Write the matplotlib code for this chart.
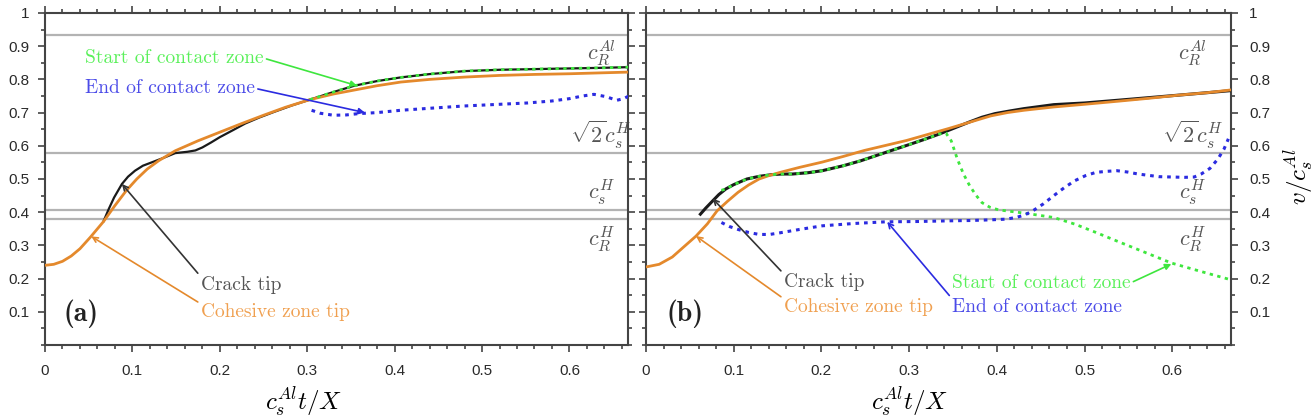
import matplotlib
matplotlib.use('Agg')
import matplotlib.pyplot as plt
from matplotlib.ticker import MultipleLocator

plt.rcParams['mathtext.fontset'] = 'cm'
plt.rcParams['font.family'] = ['Liberation Sans', 'DejaVu Sans']

# ---------------- data ----------------
ref_levels = [0.935, 0.577, 0.408, 0.381]
ref_labels = [r'$c_R^{Al}$', r'$\sqrt{2}c_s^H$', r'$c_s^H$', r'$c_R^H$']
ref_label_y = [0.882, 0.632, 0.46, 0.322]

# panel (a)
a_coh_x = [0, 0.01, 0.02, 0.03, 0.04, 0.052, 0.067, 0.08, 0.093, 0.105, 0.117, 0.13, 0.149, 0.175,
           0.2, 0.225, 0.25, 0.275, 0.303, 0.33, 0.354, 0.38, 0.407, 0.44, 0.48, 0.52, 0.56, 0.6, 0.64, 0.668]
a_coh_y = [0.24, 0.243, 0.252, 0.268, 0.29, 0.325, 0.372, 0.42, 0.465, 0.5, 0.53, 0.555, 0.585, 0.615,
           0.641, 0.667, 0.692, 0.716, 0.739, 0.756, 0.768, 0.781, 0.792, 0.8, 0.807, 0.812, 0.815, 0.817, 0.82, 0.822]
a_crack_x = [0.067, 0.073, 0.079, 0.088, 0.095, 0.103, 0.112, 0.122, 0.135, 0.149, 0.163, 0.172, 0.18, 0.19,
             0.2, 0.215, 0.229, 0.245, 0.262, 0.283, 0.303, 0.33, 0.354, 0.38, 0.407, 0.44, 0.48, 0.52, 0.56, 0.6, 0.64, 0.668]
a_crack_y = [0.373, 0.41, 0.444, 0.485, 0.507, 0.525, 0.54, 0.55, 0.563, 0.578, 0.582, 0.586, 0.595, 0.61,
             0.626, 0.647, 0.667, 0.685, 0.702, 0.722, 0.739, 0.762, 0.781, 0.795, 0.806, 0.816, 0.825, 0.829, 0.831, 0.833, 0.835, 0.837]
a_start_x = [0.303, 0.33, 0.354, 0.38, 0.407, 0.44, 0.48, 0.52, 0.56, 0.6, 0.64, 0.668]
a_start_y = [0.739, 0.762, 0.781, 0.795, 0.806, 0.816, 0.825, 0.829, 0.831, 0.833, 0.835, 0.837]
a_end_x = [0.305, 0.315, 0.33, 0.345, 0.359, 0.38, 0.407, 0.44, 0.48, 0.52, 0.552, 0.58, 0.6, 0.615, 0.628, 0.642, 0.654, 0.662, 0.668]
a_end_y = [0.707, 0.698, 0.692, 0.693, 0.697, 0.7, 0.707, 0.713, 0.72, 0.725, 0.729, 0.735, 0.742, 0.75, 0.755, 0.748, 0.737, 0.742, 0.75]

# panel (b)
b_coh_x = [0, 0.015, 0.03, 0.045, 0.057, 0.07, 0.081, 0.093, 0.105, 0.117, 0.129, 0.141, 0.153, 0.175, 0.201,
           0.225, 0.249, 0.273, 0.297, 0.321, 0.345, 0.369, 0.393, 0.412, 0.431, 0.465, 0.5, 0.537, 0.573, 0.609, 0.64, 0.666]
b_coh_y = [0.235, 0.243, 0.265, 0.3, 0.328, 0.365, 0.404, 0.433, 0.46, 0.482, 0.5, 0.511, 0.52, 0.535, 0.551,
           0.568, 0.586, 0.601, 0.616, 0.634, 0.652, 0.671, 0.69, 0.7, 0.707, 0.717, 0.725, 0.734, 0.743, 0.753, 0.76, 0.768]
b_crack_x = [0.062, 0.068, 0.076, 0.083, 0.091, 0.1, 0.115, 0.129, 0.143, 0.155, 0.167, 0.185, 0.201, 0.225, 0.245,
             0.263, 0.28, 0.297, 0.316, 0.335, 0.352, 0.369, 0.383, 0.398, 0.415, 0.431, 0.465, 0.5, 0.537, 0.573, 0.609, 0.64, 0.666]
b_crack_y = [0.394, 0.412, 0.434, 0.453, 0.47, 0.483, 0.5, 0.508, 0.513, 0.515, 0.515, 0.519, 0.525, 0.54, 0.555,
             0.571, 0.586, 0.601, 0.618, 0.636, 0.654, 0.672, 0.686, 0.697, 0.705, 0.712, 0.724, 0.729, 0.737, 0.745, 0.753, 0.76, 0.766]
b_start_x = [0.086, 0.091, 0.1, 0.115, 0.129, 0.143, 0.155, 0.167, 0.185, 0.201, 0.225, 0.245, 0.263, 0.28, 0.297,
             0.316, 0.335, 0.342, 0.348, 0.355, 0.362, 0.369, 0.376, 0.383, 0.392, 0.402, 0.414, 0.426, 0.445, 0.465,
             0.489, 0.513, 0.537, 0.568, 0.599, 0.632, 0.666]
b_start_y = [0.466, 0.47, 0.483, 0.5, 0.508, 0.513, 0.515, 0.515, 0.519, 0.525, 0.54, 0.555, 0.571, 0.586, 0.601,
             0.618, 0.636, 0.638, 0.615, 0.56, 0.515, 0.48, 0.452, 0.429, 0.415, 0.407, 0.403, 0.399, 0.392, 0.384,
             0.364, 0.339, 0.313, 0.28, 0.247, 0.222, 0.197]
b_end_x = [0.086, 0.095, 0.105, 0.117, 0.129, 0.141, 0.153, 0.175, 0.201, 0.237, 0.273, 0.31, 0.345, 0.37, 0.393,
           0.41, 0.422, 0.432, 0.441, 0.453, 0.465, 0.477, 0.489, 0.501, 0.513, 0.525, 0.537, 0.549, 0.561, 0.585,
           0.614, 0.625, 0.633, 0.643, 0.652, 0.659, 0.664]
b_end_y = [0.369, 0.357, 0.348, 0.339, 0.333, 0.333, 0.338, 0.348, 0.359, 0.366, 0.371, 0.372, 0.374, 0.375, 0.377,
           0.379, 0.384, 0.392, 0.404, 0.425, 0.45, 0.474, 0.495, 0.51, 0.52, 0.523, 0.525, 0.521, 0.515, 0.507,
           0.505, 0.506, 0.515, 0.532, 0.56, 0.59, 0.621]

panel_tags = ['(a)', '(b)']
xlabel_text = r'$c_s^{Al}t/X$'
ylabel_text = r'$v/c_s^{Al}$'

# ---------------- styles ----------------
C_ORANGE = '#e4892c'
C_ORANGE_T = '#f0a050'
C_GREEN = '#3ee63e'
C_GREEN_T = '#5af05a'
C_BLUE = '#2b2be0'
C_BLUE_T = '#4b4be8'
C_GRAY = '#b3b3b3'
C_BLACK = '#1a1a1a'
C_TEXTGRAY = '#555555'
SERIF = 'cmr10'

fig = plt.figure(figsize=(13.15, 4.17), dpi=100)
W, H = 1315.0, 417.0
axA = fig.add_axes([45 / W, 72 / H, 583 / W, 332 / H])
axB = fig.add_axes([646 / W, 72 / H, 585 / W, 332 / H])


def style_axes(ax, right_labels):
    ax.set_xlim(0, 0.667)
    ax.set_ylim(0, 1)
    ax.xaxis.set_major_locator(MultipleLocator(0.1))
    ax.xaxis.set_minor_locator(MultipleLocator(0.02))
    ax.yaxis.set_major_locator(MultipleLocator(0.1))
    ax.yaxis.set_minor_locator(MultipleLocator(0.05))
    ax.set_xticks([0, 0.1, 0.2, 0.3, 0.4, 0.5, 0.6])
    ax.set_xticklabels(['0', '0.1', '0.2', '0.3', '0.4', '0.5', '0.6'])
    ax.set_yticks([0.1, 0.2, 0.3, 0.4, 0.5, 0.6, 0.7, 0.8, 0.9, 1.0])
    ax.set_yticklabels(['0.1', '0.2', '0.3', '0.4', '0.5', '0.6', '0.7', '0.8', '0.9', '1'])
    ax.tick_params(which='both', direction='out', top=True, right=True, left=True, bottom=True,
                   color='#444444', width=1.2, labelcolor='#2a2a2a', labelsize=11)
    ax.tick_params(which='major', length=5)
    ax.tick_params(which='minor', length=3)
    ax.tick_params(axis='x', which='major', pad=9)
    if right_labels:
        ax.tick_params(axis='y', labelleft=False, labelright=True, pad=8)
    else:
        ax.tick_params(axis='y', labelleft=True, labelright=False, pad=6)
    for s in ax.spines.values():
        s.set_color('#444444')
        s.set_linewidth(1.5)


def ref_lines(ax, xc):
    for lvl, lab, ly in zip(ref_levels, ref_labels, ref_label_y):
        ax.axhline(lvl, color=C_GRAY, lw=1.6, zorder=1)
        ax.text(xc, ly, lab, color=C_TEXTGRAY, fontsize=16, ha='center', va='center', zorder=2)


def annot(ax, text, xy, xyt, color, tcolor, relpos, style='-|>'):
    ax.annotate(text, xy=xy, xytext=xyt, textcoords='data', color=tcolor,
                fontfamily=SERIF, fontsize=14, ha='left', va='center',
                arrowprops=dict(arrowstyle=style, color=color, lw=1.2, shrinkA=0, shrinkB=0,
                                relpos=relpos, mutation_scale=9), zorder=6)


# ---- panel (a)
style_axes(axA, False)
ref_lines(axA, 0.636)
axA.plot(a_crack_x, a_crack_y, color=C_BLACK, lw=1.6, zorder=3)
axA.plot(a_coh_x, a_coh_y, color=C_ORANGE, lw=2.0, zorder=4)
axA.plot(a_start_x, a_start_y, color=C_GREEN, lw=2.0, ls=(0, (1.2, 1.6)), zorder=5)
axA.plot(a_end_x, a_end_y, color=C_BLUE, lw=2.2, ls=(0, (1.2, 1.6)), zorder=5)
annot(axA, 'Start of contact zone', (0.357, 0.781), (0.046, 0.864), C_GREEN, C_GREEN_T, (1, 0.5))
annot(axA, 'End of contact zone', (0.366, 0.700), (0.046, 0.773), C_BLUE, C_BLUE_T, (1, 0.5))
annot(axA, 'Crack tip', (0.088, 0.485), (0.178, 0.182), '#333333', C_TEXTGRAY, (0, 0.95), '->')
annot(axA, 'Cohesive zone tip', (0.053, 0.327), (0.178, 0.10), C_ORANGE, C_ORANGE_T, (0, 0.95), '->')
axA.text(0.021, 0.094, panel_tags[0], fontfamily='cmb10', fontsize=20, ha='left', va='center', color='#222222')
axA.set_xlabel(xlabel_text, fontsize=18)
axA.xaxis.set_label_coords(0.444, -0.122)

# ---- panel (b)
style_axes(axB, True)
ref_lines(axB, 0.623)
axB.plot(b_crack_x, b_crack_y, color=C_BLACK, lw=2.2, zorder=3)
axB.plot(b_coh_x, b_coh_y, color=C_ORANGE, lw=2.0, zorder=4)
axB.plot(b_start_x, b_start_y, color=C_GREEN, lw=2.0, ls=(0, (1.2, 1.6)), zorder=5)
axB.plot(b_end_x, b_end_y, color=C_BLUE, lw=2.2, ls=(0, (1.2, 1.6)), zorder=5)
annot(axB, 'Crack tip', (0.076, 0.441), (0.157, 0.19), '#333333', C_TEXTGRAY, (0, 0.95), '->')
annot(axB, 'Cohesive zone tip', (0.057, 0.328), (0.157, 0.115), C_ORANGE, C_ORANGE_T, (0, 0.95), '->')
annot(axB, 'Start of contact zone', (0.599, 0.244), (0.349, 0.187), C_GREEN, C_GREEN_T, (1, 0.5))
annot(axB, 'End of contact zone', (0.275, 0.371), (0.349, 0.115), C_BLUE, C_BLUE_T, (0, 0.95), '->')
axB.text(0.023, 0.094, panel_tags[1], fontfamily='cmb10', fontsize=20, ha='left', va='center', color='#222222')
axB.set_xlabel(xlabel_text, fontsize=18)
axB.xaxis.set_label_coords(0.451, -0.122)
axB.yaxis.set_label_position('right')
axB.set_ylabel(ylabel_text, fontsize=18, rotation=90)
axB.yaxis.set_label_coords(1.088, 0.506)

fig.savefig('out.png', dpi=100)
